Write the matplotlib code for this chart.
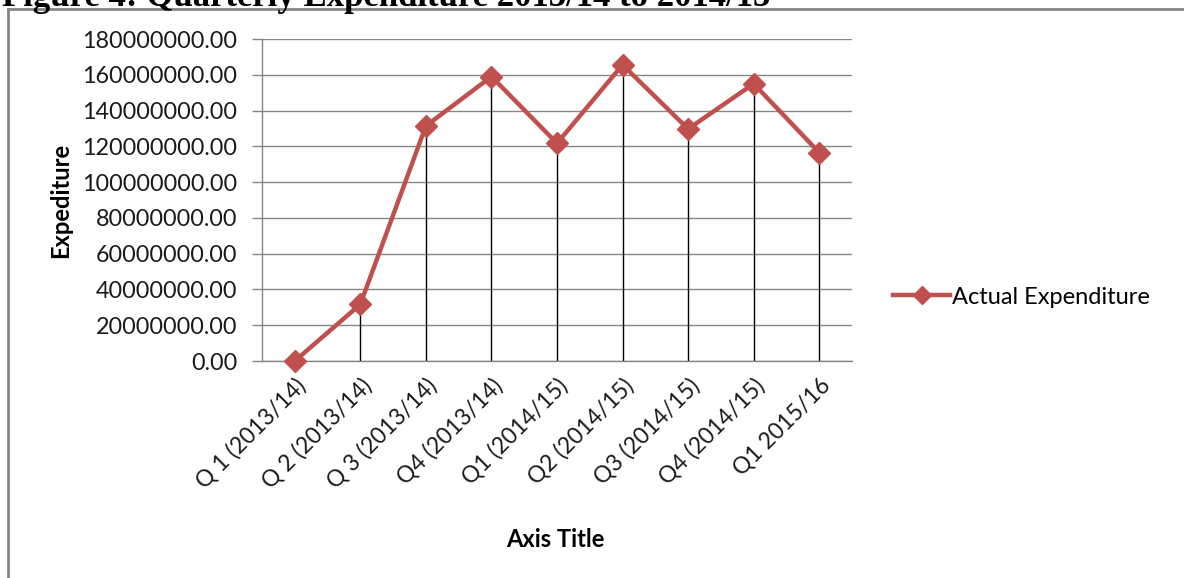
#!/usr/bin/env python3
import matplotlib
matplotlib.use("Agg")
import matplotlib.pyplot as plt
from matplotlib.lines import Line2D

quarters = ["Q 1 (2013/14)", "Q 2 (2013/14)", "Q 3 (2013/14)", "Q4 (2013/14)",
            "Q1 (2014/15)", "Q2 (2014/15)", "Q3 (2014/15)", "Q4 (2014/15)",
            "Q1 2015/16"]
actual_expenditure = [0.0, 31700000.0, 131400000.0, 159000000.0, 121700000.0,
                      165600000.0, 129700000.0, 155000000.0, 116500000.0]
y_ticks = [0, 20000000, 40000000, 60000000, 80000000, 100000000,
           120000000, 140000000, 160000000, 180000000]

RED = "#C0504D"
GRID = "#868686"
FONT = "Lato"

fig = plt.figure(figsize=(11.84, 5.78), dpi=100)
ax = fig.add_axes([262 / 1184, 1 - 361 / 578, 590 / 1184, 322 / 578])

x = list(range(len(quarters)))

# drop lines from each point to the category axis
ax.vlines(x, 0, actual_expenditure, color="black", linewidth=1.0, zorder=2)
ax.plot(x, actual_expenditure, color=RED, linewidth=3.2, marker="D",
        markersize=11, markerfacecolor=RED, markeredgecolor=RED,
        zorder=3, clip_on=False)

ax.set_xlim(-0.5, len(quarters) - 0.5)
ax.set_ylim(0, 180000000)
ax.set_yticks(y_ticks)
ax.set_yticklabels(["%.2f" % v for v in y_ticks], fontfamily=FONT,
                   fontsize=16.8, color="#1a1a1a")
ax.yaxis.grid(True, color=GRID, linewidth=1.0)
ax.set_axisbelow(True)
ax.tick_params(axis="y", length=7, color=GRID, width=1.0, pad=11)
ax.tick_params(axis="x", length=0, pad=10)

ax.set_xticks(x)
ax.set_xticklabels(quarters, rotation=45, ha="right", rotation_mode="anchor",
                   fontfamily=FONT, fontsize=16.5, color="#1a1a1a")

for side in ["top", "right"]:
    ax.spines[side].set_visible(False)
for side in ["left", "bottom"]:
    ax.spines[side].set_color(GRID)
    ax.spines[side].set_linewidth(1.0)

ax.set_ylabel("Expediture", fontfamily=FONT, fontsize=17, fontweight="bold")
ax.yaxis.set_label_coords(-0.322, 0.5)
ax.set_xlabel("Axis Title", fontfamily=FONT, fontsize=17, fontweight="bold")
ax.xaxis.set_label_coords(0.497, -0.52)

handle = Line2D([], [], color=RED, linewidth=3.2, marker="D", markersize=9)
fig.legend([handle], ["Actual Expenditure"], loc="center left",
           bbox_to_anchor=(872 / 1184, 1 - 297 / 578), frameon=False,
           handlelength=2.4, handletextpad=0.1,
           prop={"family": FONT, "size": 17})

# chart area border (left and top edges) and the caption above it
fig.add_artist(Line2D([8 / 1184, 8 / 1184], [0, 1 - 9 / 578],
                      color=GRID, linewidth=2.0))
fig.add_artist(Line2D([8 / 1184, 1], [1 - 9 / 578, 1 - 9 / 578],
                      color=GRID, linewidth=2.0))
fig.text(2 / 1184, 1 - 6 / 578, "Figure 4: Quarterly Expenditure 2013/14 to 2014/15",
         fontfamily="Liberation Serif", fontweight="bold", fontsize=25,
         ha="left", va="baseline")

fig.savefig("out.png", dpi=100)
